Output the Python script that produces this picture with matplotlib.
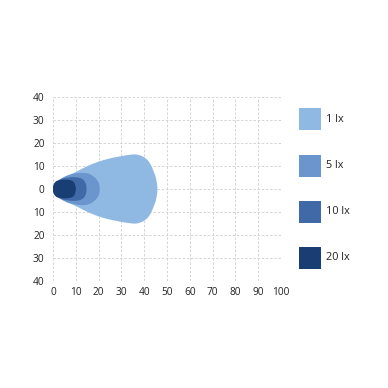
import numpy as np
import matplotlib
matplotlib.use("Agg")
import matplotlib.pyplot as plt
from matplotlib.patches import Rectangle

# ---- data: isolux contours (upper half, mirrored below) ----
levels = ["1 lx", "5 lx", "10 lx", "20 lx"]
colors = ["#8fb8e3", "#6a96cd", "#3f69a7", "#193e73"]

lx1_x = [0, 0.6, 2, 5, 10, 15, 20, 25, 30, 34, 36.5, 39, 41, 42.6, 44, 45.2, 45.8]
lx1_y = [0, 1.6, 3.1, 5.0, 7.4, 9.9, 11.9, 13.3, 14.3, 14.9, 15.0, 14.3, 13.0, 11.0, 8.0, 4.5, 0]
lx5_x = [0, 0.5, 2, 5, 8, 12, 15, 17, 19, 20.2, 20.5]
lx5_y = [0, 1.7, 3.4, 5.3, 6.4, 7.0, 6.8, 6.0, 4.3, 2.2, 0]
lx10_x = [0, 0.4, 1.5, 4, 8, 11, 13, 14.3, 14.7]
lx10_y = [0, 1.8, 3.2, 4.5, 5.1, 5.0, 4.2, 2.5, 0]
lx20_x = [0, 0.3, 1.5, 4, 6, 8, 9.4, 10]
lx20_y = [0, 1.9, 3.4, 4.0, 4.0, 3.7, 2.6, 0]

contours = [(lx1_x, lx1_y), (lx5_x, lx5_y), (lx10_x, lx10_y), (lx20_x, lx20_y)]

x_ticks = [0, 10, 20, 30, 40, 50, 60, 70, 80, 90, 100]
y_ticks = [-40, -30, -20, -10, 0, 10, 20, 30, 40]
y_labels = ["40", "30", "20", "10", "0", "10", "20", "30", "40"]


def closed_outline(xs, ys):
    xs = np.asarray(xs, float)
    ys = np.asarray(ys, float)
    px = np.concatenate([xs, xs[-2:0:-1]])
    py = np.concatenate([ys, -ys[-2:0:-1]])
    return px, py


def catmull_rom_closed(px, py, n=12):
    pts = np.column_stack([px, py])
    N = len(pts)
    out = []
    for i in range(N):
        p0, p1, p2, p3 = pts[(i - 1) % N], pts[i], pts[(i + 1) % N], pts[(i + 2) % N]
        t = np.linspace(0, 1, n, endpoint=False)[:, None]
        seg = 0.5 * ((2 * p1) + (-p0 + p2) * t + (2 * p0 - 5 * p1 + 4 * p2 - p3) * t ** 2
                     + (-p0 + 3 * p1 - 3 * p2 + p3) * t ** 3)
        out.append(seg)
    out = np.vstack(out)
    return out[:, 0], out[:, 1]


plt.rcParams["font.family"] = ["Open Sans", "DejaVu Sans"]

fig = plt.figure(figsize=(3.88, 3.88), dpi=100)
ax = fig.add_axes([53 / 388, 107 / 388, 228 / 388, 184 / 388])

for (xs, ys), c in zip(contours, colors):
    px, py = closed_outline(xs, ys)
    sx, sy = catmull_rom_closed(px, py)
    ax.fill(sx, sy, color=c, lw=0, zorder=2)

ax.set_xlim(0, 100)
ax.set_ylim(-40, 40)
ax.set_xticks(x_ticks)
ax.set_yticks(y_ticks)
ax.set_yticklabels(y_labels)
for s in ax.spines.values():
    s.set_visible(False)
ax.grid(True, color="#cfcfcf", linestyle=(0, (3, 2)), linewidth=0.6, zorder=0)
ax.set_axisbelow(True)
ax.tick_params(length=0, labelsize=7.3, labelcolor="#222222")
ax.tick_params(axis="x", pad=4)
ax.tick_params(axis="y", pad=6)

# legend
leg_y = [108, 155, 201, 247]
for lev, c, y in zip(levels, colors, leg_y):
    fig.patches.append(Rectangle((299 / 388, 1 - (y + 22) / 388), 22 / 388, 22 / 388,
                                 transform=fig.transFigure, color=c, lw=0))
    fig.text(326 / 388, 1 - (y + 11) / 388, lev, fontsize=7.8, color="#222222",
             va="center", ha="left")

fig.savefig("out.png", dpi=100, facecolor="white")
